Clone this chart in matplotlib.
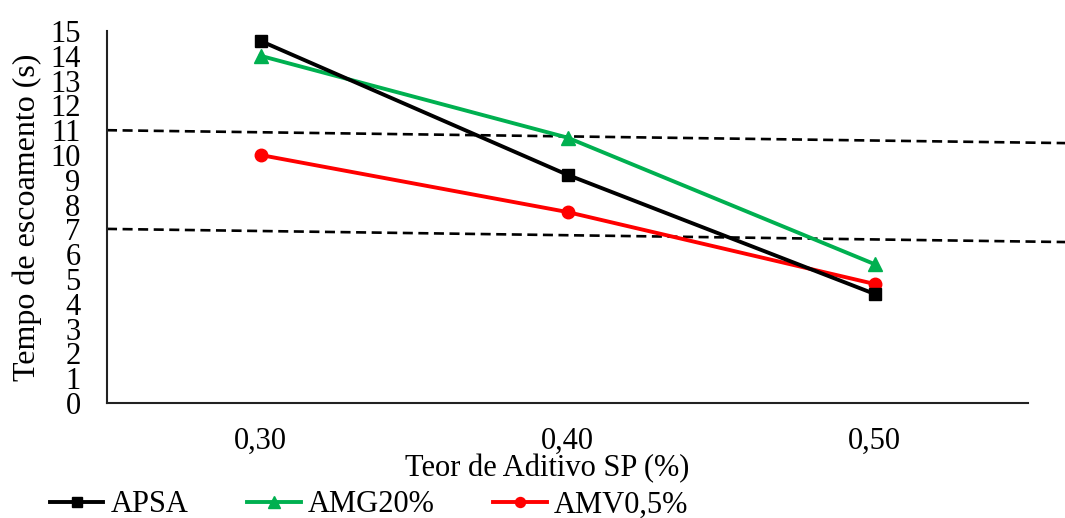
import matplotlib
matplotlib.use("Agg")
import matplotlib.pyplot as plt

plt.rcParams['font.family'] = ['Liberation Serif', 'DejaVu Serif']

categories = ["0,30", "0,40", "0,50"]
apsa = [14.6, 9.2, 4.4]
amg20 = [14.0, 10.7, 5.6]
amv05 = [10.0, 7.7, 4.8]

# reference limit lines (start value, end value)
upper_limit = [11.0, 10.48]
lower_limit = [7.02, 6.49]

yticks = list(range(0, 16))

fig = plt.figure(figsize=(10.65, 5.18), dpi=100)
ax = fig.add_axes([107/1065, 1 - 403/518, 921/1065, 372/518])

x = list(range(len(categories)))
ax.plot(x, apsa, color='black', lw=2.8, marker='s', ms=9, label='APSA', zorder=4)
ax.plot(x, amg20, color='#00B050', lw=2.8, marker='^', ms=10, label='AMG20%', zorder=3)
ax.plot(x, amv05, color='#FF0000', lw=2.8, marker='o', ms=9, label='AMV0,5%', zorder=3)

x_end = (1065 - 107) / 307 - 0.5
for lim in (upper_limit, lower_limit):
    ax.plot([-0.5, x_end], lim, color='black', lw=1.9, ls=(0, (3.8, 2.1)),
            clip_on=False, zorder=2)

ax.set_xlim(-0.5, 2.5)
ax.set_ylim(0, 15)
ax.set_xticks(x)
ax.set_xticklabels(categories)
ax.set_yticks(yticks)
ax.set_yticklabels([str(t) for t in yticks])
ax.tick_params(axis='both', length=0, labelsize=22)
ax.tick_params(axis='y', pad=19)
ax.tick_params(axis='x', pad=17)
for s in ['top', 'right']:
    ax.spines[s].set_visible(False)
for s in ['left', 'bottom']:
    ax.spines[s].set_linewidth(1.5)
    ax.spines[s].set_color('#222222')

ax.set_ylabel('Tempo de escoamento (s)', fontsize=23)
ax.yaxis.set_label_coords(-0.071, 0.5)
ax.set_xlabel('Teor de Aditivo SP (%)', fontsize=22)
ax.xaxis.set_label_coords(0.478, -0.137)

leg = fig.legend(loc='center left', bbox_to_anchor=(50/1065, 1 - 505/518),
                 ncol=3, frameon=False, fontsize=22, borderpad=0,
                 borderaxespad=0, handlelength=1.75, handletextpad=0.25,
                 columnspacing=1.9, markerscale=0.8)

fig.savefig('out.png', dpi=100)
